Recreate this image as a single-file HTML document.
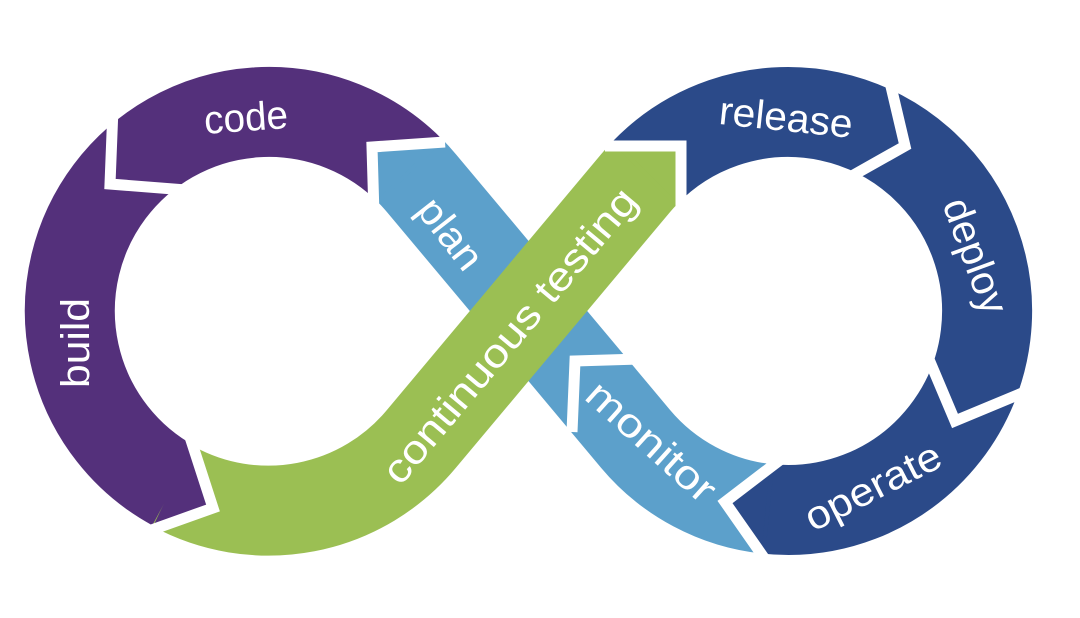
<!DOCTYPE html>
<html><head><meta charset="utf-8"><style>
html,body{margin:0;padding:0;background:#fff;}
svg{display:block;}
text{font-family:"Liberation Sans",sans-serif;fill:#fff;font-size:40px;}
</style></head><body>
<svg width="1080" height="618" viewBox="0 0 1080 618" xmlns="http://www.w3.org/2000/svg">
<g fill="none" stroke-width="90" stroke-linecap="butt" stroke-linejoin="round">
<path d="M767.2,508.9 A199,199 0 0 1 635.6,438.9 L421.4,183.1 A199,199 0 0 0 409.7,170.3" stroke="#5CA0CB"/>
<path d="M410.5,171.2 A199,199 0 1 0 174.0,485.9" stroke="#54307B"/>
<path d="M644.9,172.8 A199,199 0 1 1 767.2,508.9" stroke="#2B4A89"/>
</g>
<polygon points="438,143 372,147 374,206" fill="#5CA0CB" stroke="#5CA0CB" stroke-width="4"/>
<polygon points="763,556 725,502 772,466" fill="#2B4A89" stroke="#2B4A89" stroke-width="4"/>
<g fill="none" stroke="#fff" stroke-width="11" stroke-linejoin="miter">
<polyline points="445,142 372,147 374,215"/>
<polyline points="113,108 110,184 186,190"/>
<polyline points="889,78 905,146 850,177"/>
<polyline points="1027,391 955,421 928,357"/>
<polyline points="769,565 725,502 780,460"/>
<polyline points="642,359 575,361 572,432"/>
</g>
<path d="M173.4,486.5 A199,199 0 0 0 421.4,438.9 L635.6,183.1 A199,199 0 0 1 644.9,172.8" fill="none" stroke="#9BBF53" stroke-width="90"/>
<polygon points="618,146 681,146 681,209" fill="#9BBF53" stroke="#9BBF53" stroke-width="4"/>
<polygon points="154,529 213,508 193,447" fill="#54307B" stroke="#54307B" stroke-width="4"/>
<g fill="none" stroke="#fff" stroke-width="11" stroke-linejoin="miter">
<polyline points="143,533 213,508 190,437"/>
<polyline points="605,146 681,146 681,222"/>
</g>
<text transform="translate(246,118) rotate(-4)" text-anchor="middle" dominant-baseline="central" textLength="84" lengthAdjust="spacingAndGlyphs">code</text>
<text transform="translate(76,343) rotate(-90)" text-anchor="middle" dominant-baseline="central" textLength="90" lengthAdjust="spacingAndGlyphs">build</text>
<text transform="translate(450,234) rotate(52)" text-anchor="middle" dominant-baseline="central" textLength="80" lengthAdjust="spacingAndGlyphs">plan</text>
<text transform="translate(510,336) rotate(-50)" text-anchor="middle" dominant-baseline="central" textLength="372" lengthAdjust="spacingAndGlyphs">continuous testing</text>
<text transform="translate(786,118) rotate(6)" text-anchor="middle" dominant-baseline="central" textLength="134" lengthAdjust="spacingAndGlyphs">release</text>
<text transform="translate(975,256) rotate(70)" text-anchor="middle" dominant-baseline="central" textLength="120" lengthAdjust="spacingAndGlyphs">deploy</text>
<text transform="translate(873,487) rotate(-27)" text-anchor="middle" dominant-baseline="central" textLength="148" lengthAdjust="spacingAndGlyphs">operate</text>
<text transform="translate(651,442) rotate(42)" text-anchor="middle" dominant-baseline="central" textLength="160" lengthAdjust="spacingAndGlyphs">monitor</text>
</svg>
</body></html>
